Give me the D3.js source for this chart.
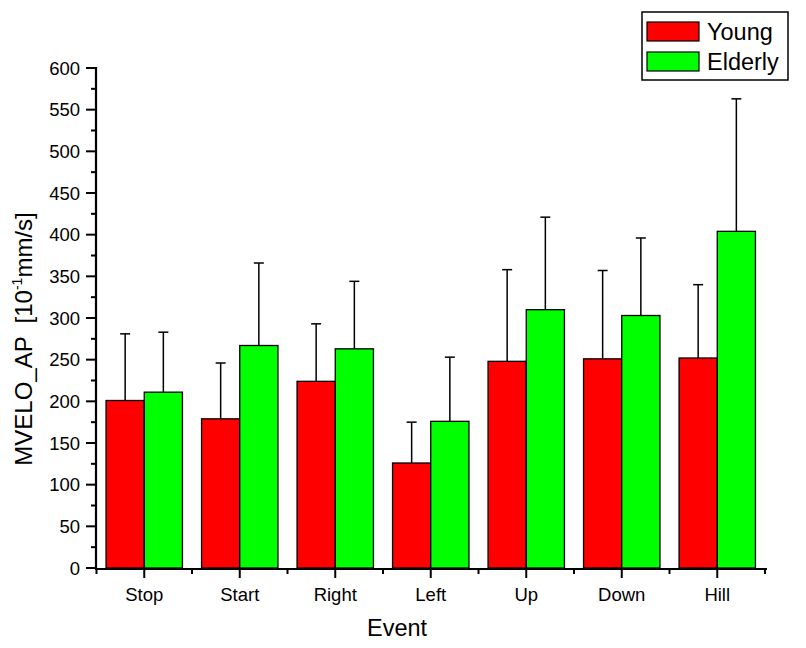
<!DOCTYPE html>
<html><head><meta charset="utf-8">
<script src="https://cdn.jsdelivr.net/npm/d3@7"></script>
<style>body{margin:0;background:#fff}svg{display:block;font-family:"Liberation Sans",Arial,sans-serif}text{white-space:pre}</style>
</head><body>
<script>
const categories = ["Stop","Start","Right","Left","Up","Down","Hill"];
const seriesNames = ["Young","Elderly"];
const youngMean = [201,179,224,126,248,251,252];
const youngErr  = [80,67,69,49,110,106,88];
const elderlyMean = [211,267,263,176,310,303,404];
const elderlyErr  = [72,99,81,77,111,93,159];
const yTicks = [0,50,100,150,200,250,300,350,400,450,500,550,600];
const colors = ["#ff0000","#00ff00"];

const W=806,H=648;
const svg=d3.select("body").append("svg").attr("width",W).attr("height",H);
const x=d3.scaleBand().domain(categories).range([96.5,765]).paddingInner(0.2).paddingOuter(0.1);
const xs=d3.scaleBand().domain(seriesNames).range([0,x.bandwidth()]);
const y=d3.scaleLinear().domain([0,600]).range([568,68]);

const data=categories.map((c,i)=>({c,vals:[
  {s:"Young",v:youngMean[i],e:youngErr[i],col:colors[0]},
  {s:"Elderly",v:elderlyMean[i],e:elderlyErr[i],col:colors[1]}]}));

const g=svg.append("g");
const grp=g.selectAll("g.grp").data(data).join("g").attr("transform",d=>`translate(${x(d.c)},0)`);
grp.selectAll("line.err").data(d=>d.vals).join("line")
  .attr("x1",d=>xs(d.s)+xs.bandwidth()/2).attr("x2",d=>xs(d.s)+xs.bandwidth()/2)
  .attr("y1",d=>y(d.v)).attr("y2",d=>y(d.v+d.e)).attr("stroke","#000").attr("stroke-width",1.5);
grp.selectAll("line.cap").data(d=>d.vals).join("line")
  .attr("x1",d=>xs(d.s)+xs.bandwidth()/2-5).attr("x2",d=>xs(d.s)+xs.bandwidth()/2+5)
  .attr("y1",d=>y(d.v+d.e)).attr("y2",d=>y(d.v+d.e)).attr("stroke","#000").attr("stroke-width",1.5);
grp.selectAll("rect").data(d=>d.vals).join("rect")
  .attr("x",d=>xs(d.s)).attr("width",xs.bandwidth())
  .attr("y",d=>y(d.v)).attr("height",d=>y(0)-y(d.v))
  .attr("fill",d=>d.col).attr("stroke","#000").attr("stroke-width",1.3);

// y axis
const yMinor=d3.range(25,600,50);
const ya=svg.append("g").attr("transform","translate(96,0)");
ya.append("line").attr("x1",0).attr("x2",0).attr("y1",y(600)-1).attr("y2",y(0)+1).attr("stroke","#000").attr("stroke-width",2.2);
ya.selectAll("line.maj").data(yTicks).join("line").attr("x1",-10).attr("x2",0).attr("y1",d=>y(d)).attr("y2",d=>y(d)).attr("stroke","#000").attr("stroke-width",2);
ya.selectAll("line.min").data(yMinor).join("line").attr("x1",-5).attr("x2",0).attr("y1",d=>y(d)).attr("y2",d=>y(d)).attr("stroke","#000").attr("stroke-width",2);
ya.selectAll("text").data(yTicks).join("text").attr("x",-16).attr("y",d=>y(d)+6.5).attr("text-anchor","end")
  .attr("font-size",18.5).text(d=>d);

// x axis
const xa=svg.append("g").attr("transform","translate(0,569)");
xa.append("line").attr("x1",95).attr("x2",767).attr("y1",0).attr("y2",0).attr("stroke","#000").attr("stroke-width",2.2);
const bounds=categories.map(c=>x(c)-x.step()*0.1).concat([x(categories[categories.length-1])+x.step()*0.9]);
xa.selectAll("line.min").data(bounds).join("line").attr("x1",d=>d).attr("x2",d=>d).attr("y1",0).attr("y2",5).attr("stroke","#000").attr("stroke-width",2);
xa.selectAll("line.maj").data(categories).join("line").attr("x1",d=>x(d)+x.bandwidth()/2).attr("x2",d=>x(d)+x.bandwidth()/2).attr("y1",0).attr("y2",9).attr("stroke","#000").attr("stroke-width",2);
xa.selectAll("text").data(categories).join("text").attr("x",d=>x(d)+x.bandwidth()/2).attr("y",32).attr("text-anchor","middle").attr("font-size",18.5).text(d=>d);

svg.append("text").attr("x",397).attr("y",636).attr("text-anchor","middle").attr("font-size",23.5).text("Event");
const yl=svg.append("text").attr("transform","translate(32,339) rotate(-90)").attr("text-anchor","middle").attr("font-size",24);
yl.append("tspan").text("MVELO_AP  [10");
yl.append("tspan").attr("font-size",14).attr("dy",-10).text("-1");
yl.append("tspan").attr("dy",10).text("mm/s]");

// legend
const lg=svg.append("g");
lg.append("rect").attr("x",642).attr("y",12).attr("width",146).attr("height",68).attr("fill","#fff").attr("stroke","#000").attr("stroke-width",1.5);
const li=lg.selectAll("g.it").data(seriesNames).join("g").attr("transform",(d,i)=>`translate(0,${i*30})`);
li.append("rect").attr("x",647).attr("y",22).attr("width",52).attr("height",19).attr("fill",(d,i)=>colors[i]).attr("stroke","#000").attr("stroke-width",1.2);
li.append("text").attr("x",707).attr("y",40).attr("font-size",23.5).text(d=>d);
</script>
</body></html>
